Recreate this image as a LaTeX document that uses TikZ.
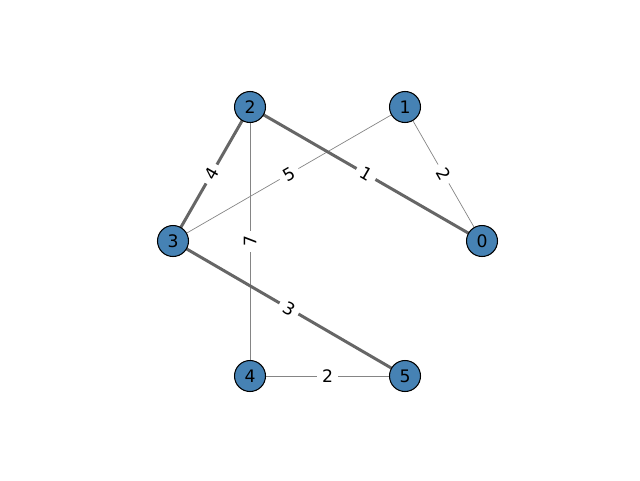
\documentclass[tikz,border=0pt]{standalone}
\usepackage{fontspec}
\setmainfont{DejaVu Sans}
\usepackage{tikz}
\definecolor{steel}{HTML}{4682B4}
\definecolor{edgegray}{HTML}{666666}

\begin{document}
\begin{tikzpicture}[font=\fontsize{9.8}{11}\selectfont,line cap=butt,
  vertex/.style={circle,draw=black,line width=0.6pt,fill=steel,minimum size=0.62cm,inner sep=0pt},
  light/.style={edgegray!80,line width=0.4pt},
  heavy/.style={edgegray,line width=1.7pt},
  wt/.style={fill=white,inner sep=3pt,text=black}]
\useasboundingbox (0,0) rectangle (12.8,9.6);
\coordinate (c0) at (9.64,4.78);
\coordinate (c1) at (8.10,7.46);
\coordinate (c2) at (5.00,7.46);
\coordinate (c3) at (3.46,4.78);
\coordinate (c4) at (5.00,2.08);
\coordinate (c5) at (8.10,2.08);
% thin edges
\draw[light] (c1) -- (c0);
\draw[light] (c1) -- (c3);
\draw[light] (c2) -- (c4);
\draw[light] (c4) -- (c5);
% tree edges
\draw[heavy] (c2) -- (c0);
\draw[heavy] (c3) -- (c2);
\draw[heavy] (c3) -- (c5);
% weights
\path (c1) -- (c0) node[wt,midway,sloped] (w10) {2};
\path (c1) -- (c3) node[wt,midway,sloped] (w13) {5};
\path (c2) -- (c4) node[wt,midway,rotate=90] (w24) {7};
\path (c4) -- (c5) node[wt,midway] (w45) {2};
\path (c2) -- (c0) node[wt,midway,sloped] (w20) {1};
\path (c3) -- (c2) node[wt,midway,sloped] (w32) {4};
\path (c3) -- (c5) node[wt,midway,sloped] (w35) {3};
% vertices
\foreach \i in {0,...,5}
  \node[vertex] (v\i) at (c\i) {\i};
\end{tikzpicture}
\end{document}
